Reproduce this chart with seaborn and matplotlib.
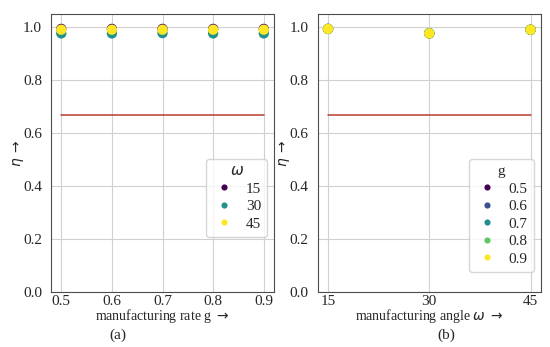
import matplotlib
matplotlib.use("Agg")
import matplotlib.pyplot as plt
import seaborn as sns
import pandas as pd

# data
g_vals = [0.5, 0.6, 0.7, 0.8, 0.9]
omega_vals = [15, 30, 45]
eta_omega15 = [0.992, 0.992, 0.992, 0.992, 0.992]
eta_omega30 = [0.975, 0.975, 0.976, 0.975, 0.975]
eta_omega45 = [0.989, 0.989, 0.989, 0.989, 0.989]
eta_ref = 0.667

eta_by_omega = {15: eta_omega15, 30: eta_omega30, 45: eta_omega45}
rows = []
for i, g in enumerate(g_vals):
    for w in omega_vals:
        rows.append({"g": g, "omega": w, "eta": eta_by_omega[w][i]})
df = pd.DataFrame(rows)

sns.set_style("whitegrid", {"axes.edgecolor": "0.3", "grid.color": "0.82"})
plt.rcParams["font.family"] = ["Liberation Serif", "DejaVu Sans"]
plt.rcParams["mathtext.fontset"] = "dejavusans"

fig = plt.figure(figsize=(5.5, 3.47), dpi=100)
ax1 = fig.add_axes([0.093, 0.159, 0.405, 0.802])
ax2 = fig.add_axes([0.578, 0.159, 0.405, 0.802])

leg_kw = dict(loc="upper right", bbox_to_anchor=(0.97, 0.477), borderaxespad=0,
              fontsize=11, title_fontsize=11, markerscale=0.6,
              labelspacing=0.25, handlelength=1.6, handletextpad=0.6)

# (a) eta vs g, hue omega
sns.scatterplot(data=df, x="g", y="eta", hue="omega", palette="viridis",
                s=55, linewidth=0, legend="full", ax=ax1)
ax1.plot([min(g_vals), max(g_vals)], [eta_ref, eta_ref], color="#b83a2e", lw=1.1)
ax1.set_xticks(g_vals)
ax1.set_ylim(0, 1.05)
ax1.set_xlabel("manufacturing rate g $\\rightarrow$", fontsize=10)
ax1.set_ylabel("$\\eta$ $\\rightarrow$", fontsize=10)
ax1.legend(title="$\\omega$", **leg_kw)

# (b) eta vs omega, hue g
sns.scatterplot(data=df, x="omega", y="eta", hue="g", palette="viridis",
                s=55, linewidth=0, legend="full", ax=ax2)
ax2.plot([min(omega_vals), max(omega_vals)], [eta_ref, eta_ref], color="#b83a2e", lw=1.1)
ax2.set_xticks(omega_vals)
ax2.set_ylim(0, 1.05)
ax2.set_xlabel("manufacturing angle $\\omega$ $\\rightarrow$", fontsize=10)
ax2.set_ylabel("$\\eta$ $\\rightarrow$", fontsize=10)
ax2.legend(title="g", **leg_kw)

for ax in (ax1, ax2):
    ax.tick_params(labelsize=11, length=3, color="0.3")
    ax.tick_params(axis="x", length=0, pad=2)
    ax.xaxis.set_label_coords(0.5, -0.087)
    ax.xaxis.label.set_verticalalignment("center")
    ax.yaxis.set_label_coords(-0.115, 0.5)

fig.text(118 / 550, 1 - 335 / 347, "(a)", ha="center", va="center", fontsize=11)
fig.text(446 / 550, 1 - 335 / 347, "(b)", ha="center", va="center", fontsize=11)

fig.savefig("out.png", dpi=100)
